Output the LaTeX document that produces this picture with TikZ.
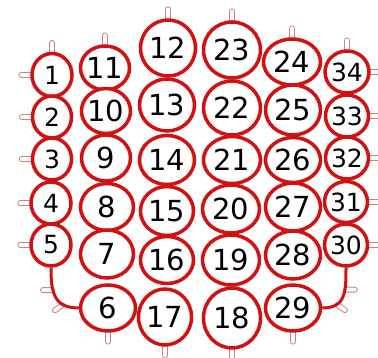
\documentclass[tikz,border=0pt]{standalone}
\usepackage{fontspec}
\setmainfont{DejaVu Sans}
\usetikzlibrary{shapes.geometric,backgrounds}
\definecolor{elecred}{RGB}{210,18,18}
\definecolor{tabred}{RGB}{200,130,130}
\tikzset{
  elec/.style={ellipse, draw=elecred, line width=3.5pt, fill=white, inner sep=-5pt,
    font=\fontsize{29}{30}\selectfont},
  smallelec/.style={elec, font=\fontsize{25}{26}\selectfont},
  tab/.style={rectangle, rounded corners=2.5pt, draw=tabred, line width=0.8pt,
    fill=white, minimum width=14pt, minimum height=5pt, inner sep=0pt},
  lead/.style={draw=elecred, line width=3pt},
}
\begin{document}
\begin{tikzpicture}[x=1pt,y=-1pt]
  \useasboundingbox (0,0) rectangle (378,358);
  % left column
  \node[smallelec, minimum width=40pt, minimum height=43pt] (e1) at (52,75) {1};
  \node[smallelec, minimum width=39pt, minimum height=42pt] (e2) at (52,117) {2};
  \node[smallelec, minimum width=39pt, minimum height=42pt] (e3) at (52,159) {3};
  \node[smallelec, minimum width=40pt, minimum height=42pt] (e4) at (51,203) {4};
  \node[smallelec, minimum width=40pt, minimum height=42pt] (e5) at (51,245) {5};
  % second column
  \node[elec, minimum width=49pt, minimum height=44pt] (e11) at (105,68) {11};
  \node[elec, minimum width=49pt, minimum height=45pt] (e10) at (106,111) {10};
  \node[elec, minimum width=49pt, minimum height=46pt] (e9) at (106,158) {9};
  \node[elec, minimum width=53pt, minimum height=47pt] (e8) at (107,207) {8};
  \node[elec, minimum width=53pt, minimum height=48pt] (e7) at (107,254) {7};
  \node[elec, minimum width=55pt, minimum height=46pt] (e6) at (108,308) {6};
  % third column
  \node[elec, minimum width=55pt, minimum height=56pt] (e12) at (168,48) {12};
  \node[elec, minimum width=55pt, minimum height=52pt] (e13) at (167,105) {13};
  \node[elec, minimum width=55pt, minimum height=49pt] (e14) at (167,160) {14};
  \node[elec, minimum width=53pt, minimum height=49pt] (e15) at (167,211) {15};
  \node[elec, minimum width=53pt, minimum height=47pt] (e16) at (167,260) {16};
  \node[elec, minimum width=53pt, minimum height=56pt] (e17) at (165,317) {17};
  % fourth column
  \node[elec, minimum width=57pt, minimum height=56pt] (e23) at (232,50) {23};
  \node[elec, minimum width=57pt, minimum height=54pt] (e22) at (232,108) {22};
  \node[elec, minimum width=57pt, minimum height=47pt] (e21) at (232,160) {21};
  \node[elec, minimum width=57pt, minimum height=48pt] (e20) at (231,209) {20};
  \node[elec, minimum width=57pt, minimum height=50pt] (e19) at (231,260) {19};
  \node[elec, minimum width=57pt, minimum height=60pt] (e18) at (232,318) {18};
  % fifth column
  \node[elec, minimum width=57pt, minimum height=46pt] (e24) at (292,62) {24};
  \node[elec, minimum width=55pt, minimum height=50pt] (e25) at (293,110) {25};
  \node[elec, minimum width=55pt, minimum height=45pt] (e26) at (293,160) {26};
  \node[elec, minimum width=55pt, minimum height=48pt] (e27) at (293,207) {27};
  \node[elec, minimum width=55pt, minimum height=48pt] (e28) at (293,255) {28};
  \node[elec, minimum width=55pt, minimum height=46pt] (e29) at (293,308) {29};
  % right column
  \node[smallelec, minimum width=44pt, minimum height=42pt] (e34) at (347,72) {34};
  \node[smallelec, minimum width=43pt, minimum height=42pt] (e33) at (347,116) {33};
  \node[smallelec, minimum width=43pt, minimum height=42pt] (e32) at (347,158) {32};
  \node[smallelec, minimum width=43pt, minimum height=41pt] (e31) at (346,202) {31};
  \node[smallelec, minimum width=43pt, minimum height=42pt] (e30) at (346,245) {30};
  % leads round the bottom corners
  \draw[lead] (e5.south) to[out=-90,in=180,looseness=1.3]
    coordinate[pos=0.35] (la) coordinate[pos=0.72] (lb) (e6.west);
  \draw[lead] (e30.south) to[out=-90,in=0,looseness=1.3]
    coordinate[pos=0.35] (ra) coordinate[pos=0.72] (rb) (e29.east);
  \begin{scope}[on background layer]
    % top tabs
    \node[tab, rotate=90, anchor=west] at ([yshift=-3pt]e1.north) {};
    \node[tab, rotate=90, anchor=west] at ([yshift=-3pt]e11.north) {};
    \node[tab, rotate=90, anchor=west] at ([yshift=-3pt]e12.north) {};
    \node[tab, rotate=90, anchor=west] at ([yshift=-3pt]e23.north) {};
    \node[tab, rotate=90, anchor=west] at ([yshift=-3pt]e24.north) {};
    \node[tab, rotate=90, anchor=west] at ([yshift=-3pt]e34.north) {};
    % left tabs
    \node[tab, anchor=east] at ([xshift=3pt]e1.west) {};
    \node[tab, anchor=east] at ([xshift=3pt]e2.west) {};
    \node[tab, anchor=east] at ([xshift=3pt]e3.west) {};
    \node[tab, anchor=east] at ([xshift=3pt]e4.west) {};
    \node[tab, anchor=east] at ([xshift=3pt]e5.west) {};
    \node[tab, anchor=east] at ([xshift=2pt]la) {};
    \node[tab, rotate=35, anchor=east] at ([xshift=2pt,yshift=1pt]lb) {};
    % right tabs
    \node[tab, anchor=west] at ([xshift=-3pt]e34.east) {};
    \node[tab, anchor=west] at ([xshift=-3pt]e33.east) {};
    \node[tab, anchor=west] at ([xshift=-3pt]e32.east) {};
    \node[tab, anchor=west] at ([xshift=-3pt]e31.east) {};
    \node[tab, anchor=west] at ([xshift=-3pt]e30.east) {};
    \node[tab, anchor=west] at ([xshift=-2pt]ra) {};
    \node[tab, rotate=-35, anchor=west] at ([xshift=-2pt,yshift=1pt]rb) {};
    % bottom tabs
    \node[tab, rotate=90, anchor=east] at ([yshift=3pt]e6.south) {};
    \node[tab, rotate=90, anchor=east] at ([yshift=3pt]e17.south) {};
    \node[tab, rotate=90, anchor=east] at ([yshift=3pt]e18.south) {};
    \node[tab, rotate=90, anchor=east] at ([yshift=3pt]e29.south) {};
  \end{scope}
\end{tikzpicture}
\end{document}
